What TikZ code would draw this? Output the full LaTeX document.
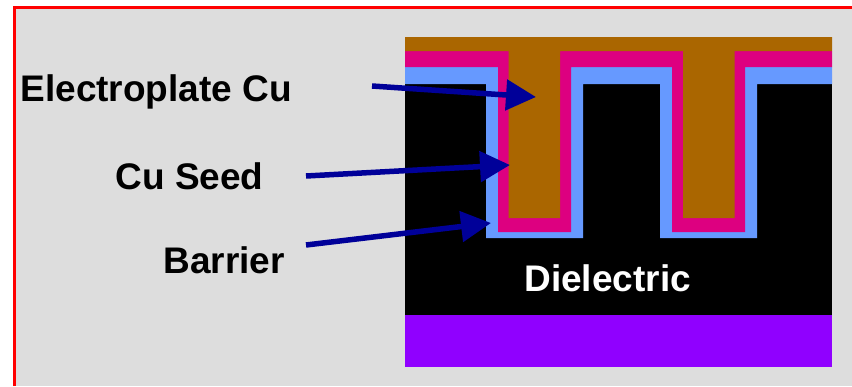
\documentclass[tikz,border=0pt]{standalone}
\usepackage{fontspec}
\setmainfont{Liberation Sans}
\usetikzlibrary{arrows.meta}
\definecolor{panelgray}{HTML}{DDDDDD}
\definecolor{framered}{HTML}{FF0000}
\definecolor{cubrown}{HTML}{AA6600}
\definecolor{seedpink}{HTML}{DD0080}
\definecolor{barrierblue}{HTML}{6699FF}
\definecolor{basepurple}{HTML}{9000FF}
\definecolor{arrowblue}{HTML}{000099}
\tikzset{
  x=1pt,y=-1pt,
  lbl/.style={font=\fontsize{37}{37}\selectfont\bfseries,anchor=base,inner sep=0pt,text=black},
  pointer/.style={draw=arrowblue,line width=5.5pt,-{Triangle[length=30pt,width=30pt]}},
}
\begin{document}
\begin{tikzpicture}
\fill[white] (0,0) rectangle (852,386);
\useasboundingbox (0,0) rectangle (852,386);
\fill[panelgray] (14,7) rectangle (852,386);
\draw[framered,line width=3pt] (14,386) -- (14,7) -- (852,7);
\fill[black] (405,84) rectangle (832,315);
\fill[basepurple] (405,315) rectangle (832,367);
\fill[barrierblue] (405,67) -- (832,67) -- (832,84) -- (757,84) -- (757,238) -- (660,238) -- (660,84) -- (583,84) -- (583,238) -- (486,238) -- (486,84) -- (405,84) -- cycle;
\fill[seedpink] (405,51) -- (832,51) -- (832,67) -- (745,67) -- (745,232) -- (672,232) -- (672,67) -- (571,67) -- (571,232) -- (498,232) -- (498,67) -- (405,67) -- cycle;
\fill[cubrown] (405,37) -- (832,37) -- (832,51) -- (734.5,51) -- (734.5,218) -- (683,218) -- (683,51) -- (560,51) -- (560,218) -- (508.5,218) -- (508.5,51) -- (405,51) -- cycle;
\node[lbl] (plate) at (156.2,101) {Electroplate Cu};
\node[lbl] (seed) at (189.6,189) {Cu Seed};
\node[lbl] (barrier) at (224.2,273) {Barrier};
\node[lbl,text=white] (diel) at (607.6,291) {Dielectric};
\coordinate (plateS) at (372,86);
\coordinate (plateT) at (536,97);
\coordinate (seedS) at (306,176);
\coordinate (seedT) at (510,165);
\coordinate (barS) at (306,245);
\coordinate (barT) at (491,223);
\draw[pointer] (plateS) -- (plateT);
\draw[pointer] (seedS) -- (seedT);
\draw[pointer] (barS) -- (barT);
\end{tikzpicture}
\end{document}
